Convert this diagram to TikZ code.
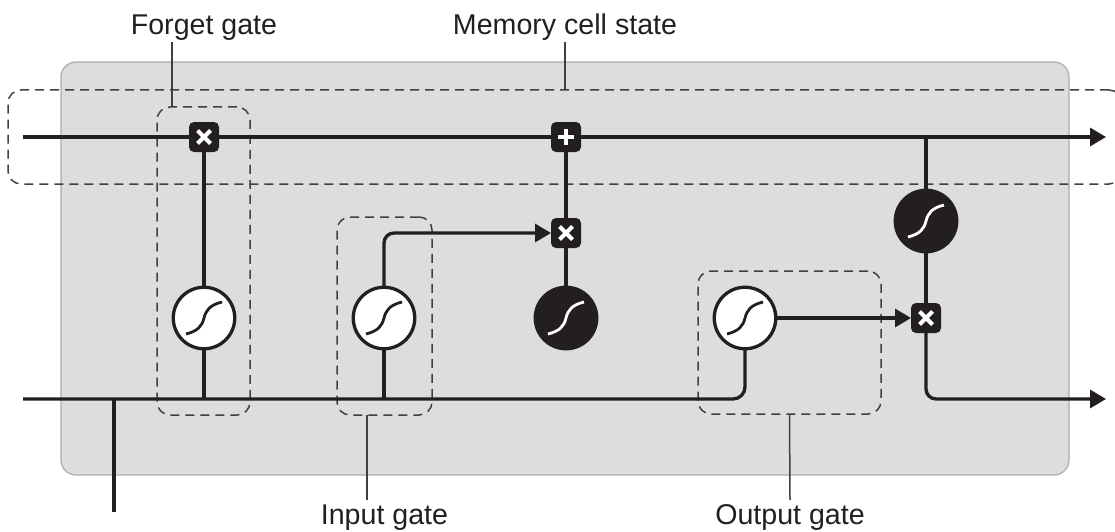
\documentclass[tikz,border=0pt]{standalone}
\usepackage{fontspec}
\setmainfont{Liberation Sans}
\usetikzlibrary{arrows.meta}
\definecolor{ink}{HTML}{231F20}
\definecolor{cellfill}{HTML}{DCDDDF}
\definecolor{celledge}{HTML}{A9ABAE}
\definecolor{dashc}{HTML}{404040}
\pgfdeclarelayer{bg}
\pgfdeclarelayer{lines}
\pgfsetlayers{bg,lines,main}
\begin{document}
\begin{tikzpicture}[x=1pt,y=-1pt,
  wire/.style={draw=ink, line width=3.3pt},
  arr/.style={wire, -{Triangle[length=16pt,width=18pt]}},
  opbox/.style={rectangle, rounded corners=5pt, fill=ink, minimum size=30pt, inner sep=0pt, outer sep=0pt},
  timesop/.style={opbox, path picture={
     \draw[white, line width=4pt]
       ([shift={(-6.5pt,-6.5pt)}]path picture bounding box.center) -- ([shift={(6.5pt,6.5pt)}]path picture bounding box.center)
       ([shift={(-6.5pt,6.5pt)}]path picture bounding box.center) -- ([shift={(6.5pt,-6.5pt)}]path picture bounding box.center);}},
  plusop/.style={opbox, path picture={
     \draw[white, line width=4pt]
       ([shift={(-8pt,0pt)}]path picture bounding box.center) -- ([shift={(8pt,0pt)}]path picture bounding box.center)
       ([shift={(0pt,-8pt)}]path picture bounding box.center) -- ([shift={(0pt,8pt)}]path picture bounding box.center);}},
  scurve/.style={path picture={
     \draw[#1, line width=2.8pt]
       ([shift={(-18pt,-16pt)}]path picture bounding box.center)
       .. controls ([shift={(-6pt,-13pt)}]path picture bounding box.center)
       and ([shift={(-2pt,-8pt)}]path picture bounding box.center)
       .. (path picture bounding box.center)
       .. controls ([shift={(2pt,8pt)}]path picture bounding box.center)
       and ([shift={(6pt,13pt)}]path picture bounding box.center)
       .. ([shift={(18pt,16pt)}]path picture bounding box.center);}},
  sigc/.style={circle, draw=ink, line width=3.3pt, fill=white, minimum size=61.5pt, inner sep=0pt, outer sep=0pt, scurve=ink},
  tanhc/.style={circle, draw=ink, line width=3.3pt, fill=ink, minimum size=61.5pt, inner sep=0pt, outer sep=0pt, scurve=white},
  gatebox/.style={rectangle, draw=dashc, dash pattern=on 9pt off 6pt, line width=1.5pt, rounded corners=13pt, inner sep=0pt, outer sep=0pt},
  cellbox/.style={rectangle, fill=cellfill, draw=celledge, line width=1.2pt, rounded corners=15pt, inner sep=0pt, outer sep=0pt},
  leader/.style={draw=dashc, line width=1.5pt},
  lbl/.style={font=\fontsize{28.6}{34}\selectfont, text=ink, inner sep=0pt, anchor=base}
]
\useasboundingbox (0,0) rectangle (1115,532);

% background cell and dashed groups
\begin{pgfonlayer}{bg}
  \node[cellbox, minimum width=1008pt, minimum height=413pt] (cell) at (565,268.5) {};
  \node[gatebox, minimum width=1114pt, minimum height=94pt] (mc) at (565,137) {};
  \node[gatebox, minimum width=93pt, minimum height=308pt] (fg) at (203.5,261) {};
  \node[gatebox, minimum width=95pt, minimum height=198pt] (ig) at (384.5,316) {};
  \node[gatebox, minimum width=183pt, minimum height=143pt] (og) at (789.5,342.5) {};
\end{pgfonlayer}

% operators and activations
\node[timesop] (mf) at (204,137) {};
\node[plusop]  (pa) at (566,137) {};
\node[timesop] (mi) at (566,233) {};
\node[timesop] (mo) at (926,318) {};
\node[sigc]  (fc) at (204,318) {};
\node[sigc]  (ic) at (384,318) {};
\node[tanhc] (tc) at (566,318) {};
\node[sigc]  (oc) at (745,318) {};
\node[tanhc] (rt) at (926,221) {};

% free ends
\coordinate (c0) at (23,137);
\coordinate (c1) at (1106,137);
\coordinate (b0) at (23,399);
\coordinate (h1) at (1106,399);
\coordinate (xt) at (114,512);
\coordinate (xj) at (114,399);

% labels
\node[lbl] (lf) at (204,35) {Forget gate};
\node[lbl] (lm) at (565,35) {Memory cell state};
\node[lbl] (li) at (384.5,524) {Input gate};
\node[lbl] (lo) at (790,524) {Output gate};
\coordinate (lfa) at (172,42);
\coordinate (lia) at (367,500);
\coordinate (loa) at (790,500);
\coordinate (lma) at (565,42);

\begin{pgfonlayer}{lines}
  % cell state
  \draw[arr] (c0) -- (c1);
  % hidden/input line
  \draw[wire, rounded corners=12pt] (b0) -| (oc.south);
  \draw[wire] (xt) -- (xj);
  % forget gate
  \draw[wire] (mf) -- (fc);
  \draw[wire] (fc) -- (fc |- b0);
  % input gate
  \draw[wire] (ic) -- (ic |- b0);
  \draw[arr, rounded corners=10pt] (ic.north) |- (mi.west);
  \draw[wire] (pa) -- (mi);
  \draw[wire] (mi) -- (tc);
  % output gate
  \draw[arr] (oc.east) -- (mo.west);
  \draw[wire] (rt |- c0) -- (rt);
  \draw[wire] (rt) -- (mo);
  \draw[arr, rounded corners=10pt] (mo.south) |- (h1);
  % leaders
  \draw[leader] (lfa) -- (lfa |- fg.north);
  \draw[leader] (lma) -- (mc.north);
  \draw[leader] (lia |- ig.south) -- (lia);
  \draw[leader] (og.south) -- (loa);
\end{pgfonlayer}
\end{tikzpicture}
\end{document}
